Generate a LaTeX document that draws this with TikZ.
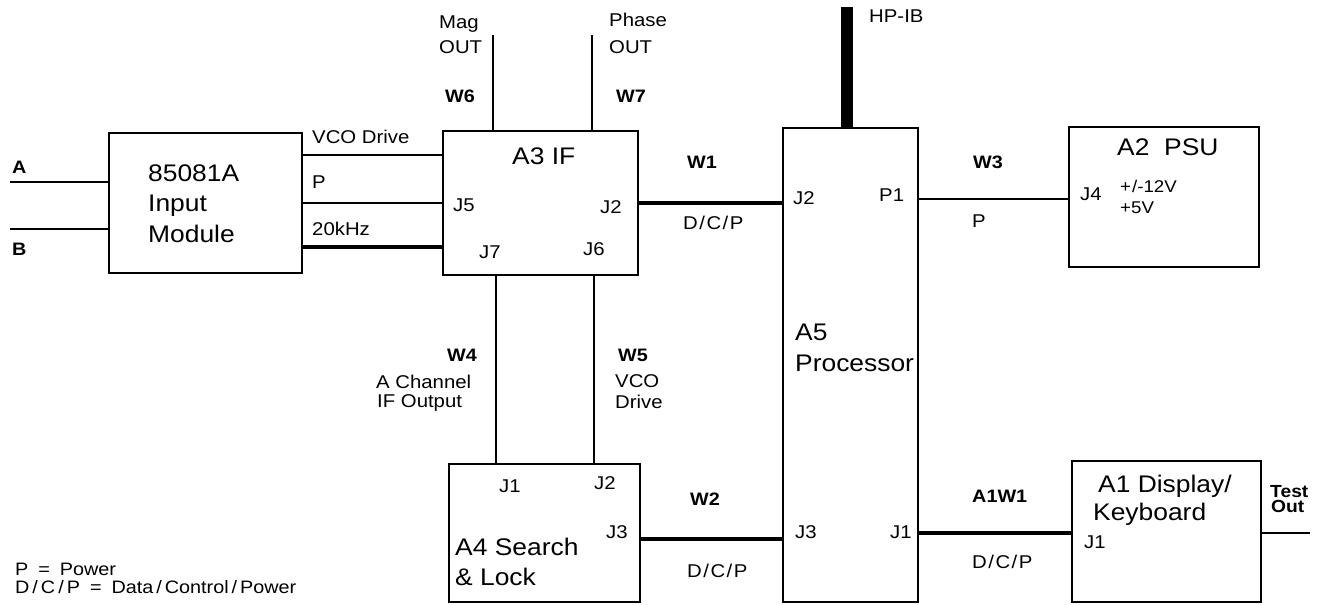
\documentclass[tikz,border=0pt]{standalone}
\usepackage{fontspec}
\setmainfont{Liberation Sans}[FakeStretch=1.1]
\begin{document}
\begin{tikzpicture}[x=1pt,y=-1pt,
  box/.style={draw, line width=2.2pt, inner sep=0pt, minimum width=#1},
  wire/.style={line width=2pt},
  bus/.style={line width=3.8pt},
  lbl/.style={inner sep=0pt, anchor=base west, font=\fontsize{18.5}{22}\selectfont},
  big/.style={inner sep=0pt, anchor=base west, font=\fontsize{24}{29}\selectfont},
  wlab/.style={inner sep=0pt, anchor=base west, font=\fontsize{18}{21}\selectfont\bfseries},
  small/.style={inner sep=0pt, anchor=base west, font=\fontsize{17}{19}\selectfont},
  testlab/.style={inner sep=0pt, anchor=base west, font=\fontsize{17.5}{19}\selectfont\bfseries},
  legend/.style={inner sep=0pt, anchor=base west, font=\fontsize{18}{20}\selectfont}]
\fill[white] (0,0) rectangle (1326,605);
\useasboundingbox (0,0) rectangle (1326,605);

% boxes
\node[box=193pt, minimum height=140pt] (inmod) at (205.5,203) {};
\node[box=195pt, minimum height=144pt] (a3) at (540.5,203) {};
\node[box=135pt, minimum height=474pt] (a5) at (850.5,365) {};
\node[box=190pt, minimum height=140pt] (a2) at (1164,197) {};
\node[box=191pt, minimum height=138pt] (a4) at (544.5,533) {};
\node[box=189pt, minimum height=141pt] (a1) at (1166.5,531.5) {};

% free ends
\coordinate (aend) at (10,182);
\coordinate (bend) at (10,229);
\coordinate (magend) at (493,35);
\coordinate (phend) at (592,35);
\coordinate (hpend) at (847,7);
\coordinate (testend) at (1310,533);

% connectors
\draw[wire] (aend) -- (inmod.west |- aend);
\draw[wire] (bend) -- (inmod.west |- bend);
\draw[wire] (inmod.east |- 0,155) -- (a3.west |- 0,155);
\draw[wire] (inmod.east) -- (a3.west);
\draw[bus] (inmod.east |- 0,247) -- (a3.west |- 0,247);
\draw[wire] (a3.north -| magend) -- (magend);
\draw[wire] (a3.north -| phend) -- (phend);
\draw[bus] (a3.east) -- (a5.west |- a3.east);
\draw[line width=12pt] (a5.north -| hpend) -- (hpend);
\draw[wire] (a5.east |- 0,199) -- (a2.west |- 0,199);
\draw[wire] (a3.south -| 496,0) -- (a4.north -| 496,0);
\draw[wire] (a3.south -| 594,0) -- (a4.north -| 594,0);
\draw[bus] (a4.east |- 0,539) -- (a5.west |- 0,539);
\draw[bus] (a5.east |- 0,533) -- (a1.west |- 0,533);
\draw[wire] (a1.east |- testend) -- (testend);

% input side
\node[wlab] (la) at (12,173) {A};
\node[wlab] (lb) at (12,255) {B};
\node[big] (im1) at (148,181) {85081A};
\node[big] (im2) at (148,211) {Input};
\node[big] (im3) at (148,242) {Module};
\node[lbl] (lvco) at (312,143) {VCO Drive};
\node[lbl] (lp) at (312,188) {P};
\node[lbl] (l20) at (312,235) {20kHz};

% A3 IF
\node[lbl] (mag1) at (439,28) {Mag};
\node[lbl] (mag2) at (439,53) {OUT};
\node[lbl] (ph1) at (609,27) {Phase};
\node[lbl] (ph2) at (609,53) {OUT};
\node[wlab] (w6) at (445,102) {W6};
\node[wlab] (w7) at (616,102) {W7};
\node[big] (a3t) at (512,164) {A3 IF};
\node[lbl] (a3j5) at (453,211) {J5};
\node[lbl] (a3j2) at (600,213) {J2};
\node[lbl] (a3j7) at (479,258) {J7};
\node[lbl] (a3j6) at (583,255) {J6};
\node[wlab] (w1) at (687,168) {W1};
\node[lbl] (w1d) at (683,229) {D\kern1.5pt/\kern1.5pt C\kern1.5pt/\kern1.5pt P};

% A5
\node[lbl] (hpib) at (869,23) {HP-IB};
\node[lbl] (a5j2) at (793,204) {J2};
\node[lbl] (a5p1) at (879,201) {P1};
\node[big] (a5t1) at (795,340) {A5};
\node[big] (a5t2) at (795,371) {Processor};
\node[lbl] (a5j3) at (795,538) {J3};
\node[lbl] (a5j1) at (890,538) {J1};

% A2
\node[wlab] (w3) at (973,168) {W3};
\node[lbl] (w3p) at (972,227) {P};
\node[big] (a2t) at (1117,155) {A2\ \ PSU};
\node[lbl] (a2j4) at (1080,200) {J4};
\node[small] (v12) at (1120,192) {+\kern1pt/-12V};
\node[small] (v5) at (1120,213) {+5V};

% W4 / W5
\node[wlab] (w4) at (447,361) {W4};
\node[lbl] (w4a) at (376,388) {A Channel};
\node[lbl] (w4b) at (377,407) {IF Output};
\node[wlab] (w5) at (618,361) {W5};
\node[lbl] (w5a) at (615,387) {VCO};
\node[lbl] (w5b) at (615,408) {Drive};

% A4
\node[lbl] (a4j1) at (499,492) {J1};
\node[lbl] (a4j2) at (594,489) {J2};
\node[lbl] (a4j3) at (606,538) {J3};
\node[big] (a4t1) at (455,555) {A4 Search};
\node[big] (a4t2) at (455,585) {\& Lock};
\node[wlab] (w2) at (690,505) {W2};
\node[lbl] (w2d) at (687,577) {D\kern1.5pt/\kern1.5pt C\kern1.5pt/\kern1.5pt P};

% A1
\node[wlab] (a1w1) at (972,502) {A1W1};
\node[lbl] (a1d) at (972,568) {D\kern1.5pt/\kern1.5pt C\kern1.5pt/\kern1.5pt P};
\node[big] (a1t1) at (1098,492) {A1 Display/};
\node[big] (a1t2) at (1093,520) {Keyboard};
\node[lbl] (a1j1) at (1084,548) {J1};
\node[testlab] (test1) at (1270,497) {Test};
\node[testlab] (test2) at (1271,512) {Out};

% legend
\node[legend] (leg1) at (15,575) {P\hspace{10pt}=\hspace{10pt}Power};
\node[legend] (leg2) at (15,593) {D\kern3pt/\kern3pt C\kern3pt/\kern3pt P\hspace{10pt}=\hspace{10pt}Data\kern3pt/\kern3pt Control\kern3pt/\kern3pt Power};
\end{tikzpicture}
\end{document}
